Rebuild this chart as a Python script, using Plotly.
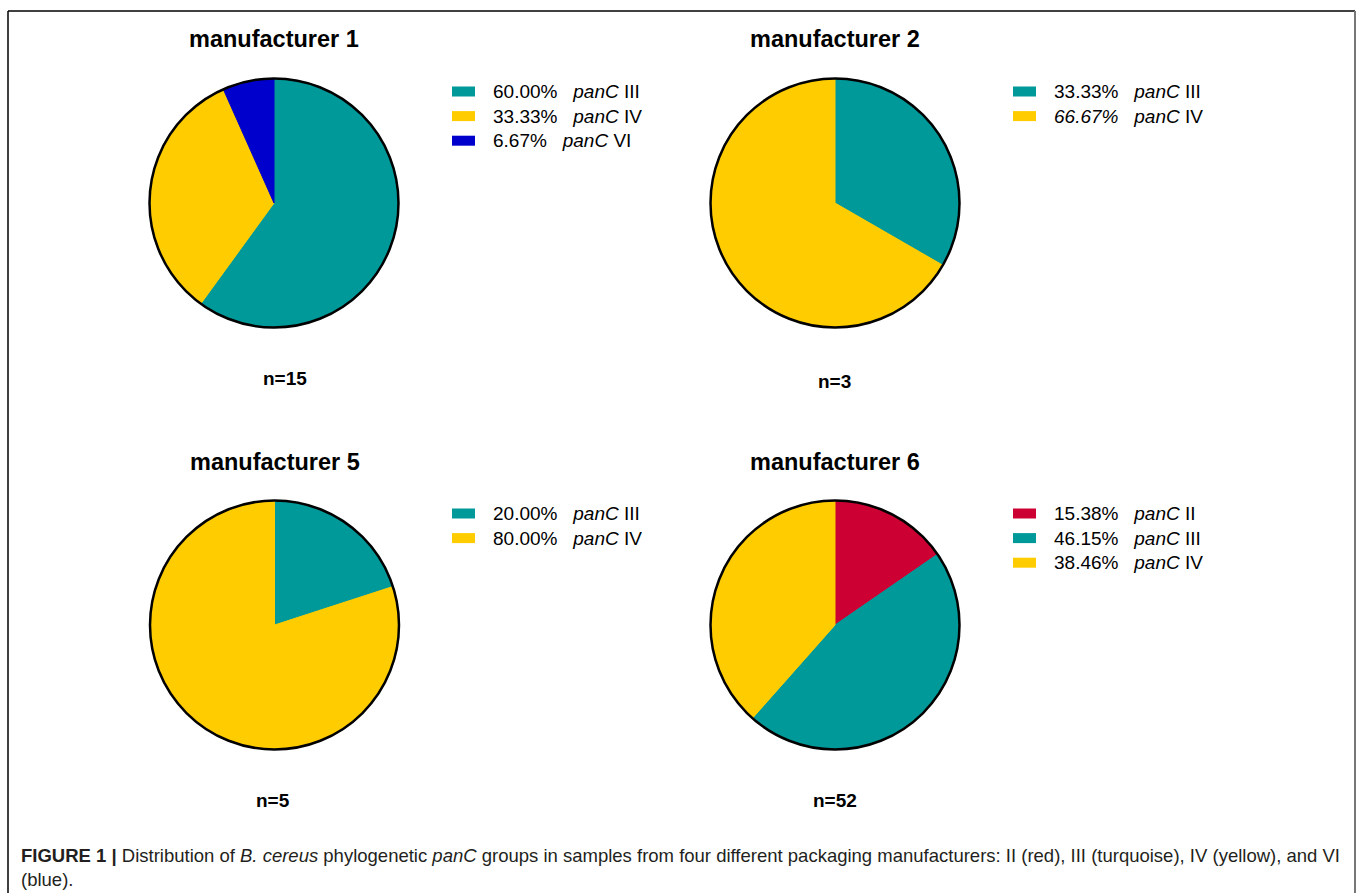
import plotly.graph_objects as go

# ---- data -------------------------------------------------------------
titles = ["manufacturer 1", "manufacturer 2", "manufacturer 5", "manufacturer 6"]
sample_sizes = [15, 3, 5, 52]

m1_groups = ["III", "IV", "VI"]
m1_shares = [60.00, 33.33, 6.67]
m2_groups = ["III", "IV"]
m2_shares = [33.33, 66.67]
m5_groups = ["III", "IV"]
m5_shares = [20.00, 80.00]
m6_groups = ["II", "III", "IV"]
m6_shares = [15.38, 46.15, 38.46]

# rows whose legend text is fully italic (manufacturer index, row index)
italic_rows = [(1, 1)]

group_colors = {
    "II": "#CC0033",
    "III": "#009999",
    "IV": "#FFCC00",
    "VI": "#0000CC",
}

caption_line1 = ("<b>FIGURE 1 |</b> Distribution of <i>B. cereus</i> phylogenetic <i>panC</i> groups "
                 "in samples from four different packaging manufacturers: II (red), III (turquoise), "
                 "IV (yellow), and VI")
caption_line2 = "(blue)."

# ---- layout helpers ---------------------------------------------------
W, H = 1358, 893


def px(x):
    return x / W


def py(y):
    return 1 - y / H


panels = [
    (m1_groups, m1_shares),
    (m2_groups, m2_shares),
    (m5_groups, m5_shares),
    (m6_groups, m6_shares),
]

# pie centre (px), radius, title y, n-label position, legend origin
centres = [(274, 203), (835, 203), (274.5, 625), (835, 625)]
radius = 124.5
title_y = [39, 39, 462, 462]
n_pos = [(285, 378), (834, 381), (273, 800), (835, 800)]
legend_x = [452, 1013, 452, 1013]
legend_y0 = [91.5, 91.5, 513.5, 513.5]
row_step = 24.6

FONT = "Liberation Sans, Arial, sans-serif"

fig = go.Figure()
annotations = []
shapes = []

for i, ((groups, shares), (cx, cy)) in enumerate(zip(panels, centres)):
    colors = [group_colors[g] for g in groups]
    dom = dict(x=[px(cx - radius), px(cx + radius)],
               y=[py(cy + radius), py(cy - radius)])
    fig.add_trace(go.Pie(
        values=shares,
        labels=[f"panC {g}" for g in groups],
        marker=dict(colors=colors, line=dict(color=colors, width=1)),
        sort=False, direction="clockwise", rotation=0,
        textinfo="none", hoverinfo="label+percent",
        domain=dom, showlegend=False,
    ))
    # black outer ring
    fig.add_trace(go.Pie(
        values=[1],
        marker=dict(colors=["rgba(0,0,0,0)"], line=dict(color="black", width=2.5)),
        sort=False, textinfo="none", hoverinfo="skip",
        domain=dom, showlegend=False,
    ))

    annotations.append(dict(
        text=f"<b>{titles[i]}</b>", x=px(cx), y=py(title_y[i]),
        xref="paper", yref="paper", xanchor="center", yanchor="middle",
        showarrow=False, font=dict(family=FONT, size=23.5, color="black"),
    ))
    annotations.append(dict(
        text=f"<b>n={sample_sizes[i]}</b>", x=px(n_pos[i][0]), y=py(n_pos[i][1]),
        xref="paper", yref="paper", xanchor="center", yanchor="middle",
        showarrow=False, font=dict(family=FONT, size=19, color="black"),
    ))

    for j, (g, s) in enumerate(zip(groups, shares)):
        ry = legend_y0[i] + j * row_step
        lx = legend_x[i]
        shapes.append(dict(
            type="rect", xref="paper", yref="paper",
            x0=px(lx), x1=px(lx + 23), y0=py(ry + 5), y1=py(ry - 5),
            fillcolor=group_colors[g], line=dict(width=0),
        ))
        if (i, j) in italic_rows:
            label = f"<i>{s:.2f}%\u00a0\u00a0 panC</i> {g}"
        else:
            label = f"{s:.2f}%\u00a0\u00a0 <i>panC</i> {g}"
        annotations.append(dict(
            text=label, x=px(lx + 39), y=py(ry),
            xref="paper", yref="paper", xanchor="left", yanchor="middle",
            showarrow=False, font=dict(family=FONT, size=19, color="black"),
        ))

# caption
annotations.append(dict(
    text=caption_line1, x=px(19), y=py(855), xref="paper", yref="paper",
    xanchor="left", yanchor="middle", showarrow=False,
    font=dict(family=FONT, size=18.5, color="#231F20"),
))
annotations.append(dict(
    text=caption_line2, x=px(19), y=py(879), xref="paper", yref="paper",
    xanchor="left", yanchor="middle", showarrow=False,
    font=dict(family=FONT, size=18.5, color="#231F20"),
))

# frame: top and left in black, right edge grey, open at the bottom
shapes += [
    dict(type="line", xref="paper", yref="paper", x0=px(8), x1=px(1355),
         y0=py(11), y1=py(11), line=dict(color="black", width=1.5)),
    dict(type="line", xref="paper", yref="paper", x0=px(8), x1=px(8),
         y0=py(11), y1=py(895), line=dict(color="black", width=1.5)),
    dict(type="line", xref="paper", yref="paper", x0=px(1355), x1=px(1355),
         y0=py(11), y1=py(895), line=dict(color="#777777", width=2)),
]

fig.update_layout(
    width=W, height=H,
    margin=dict(l=0, r=0, t=0, b=0),
    paper_bgcolor="white", plot_bgcolor="white",
    annotations=annotations, shapes=shapes,
    showlegend=False,
)

fig.write_html("out.html")
